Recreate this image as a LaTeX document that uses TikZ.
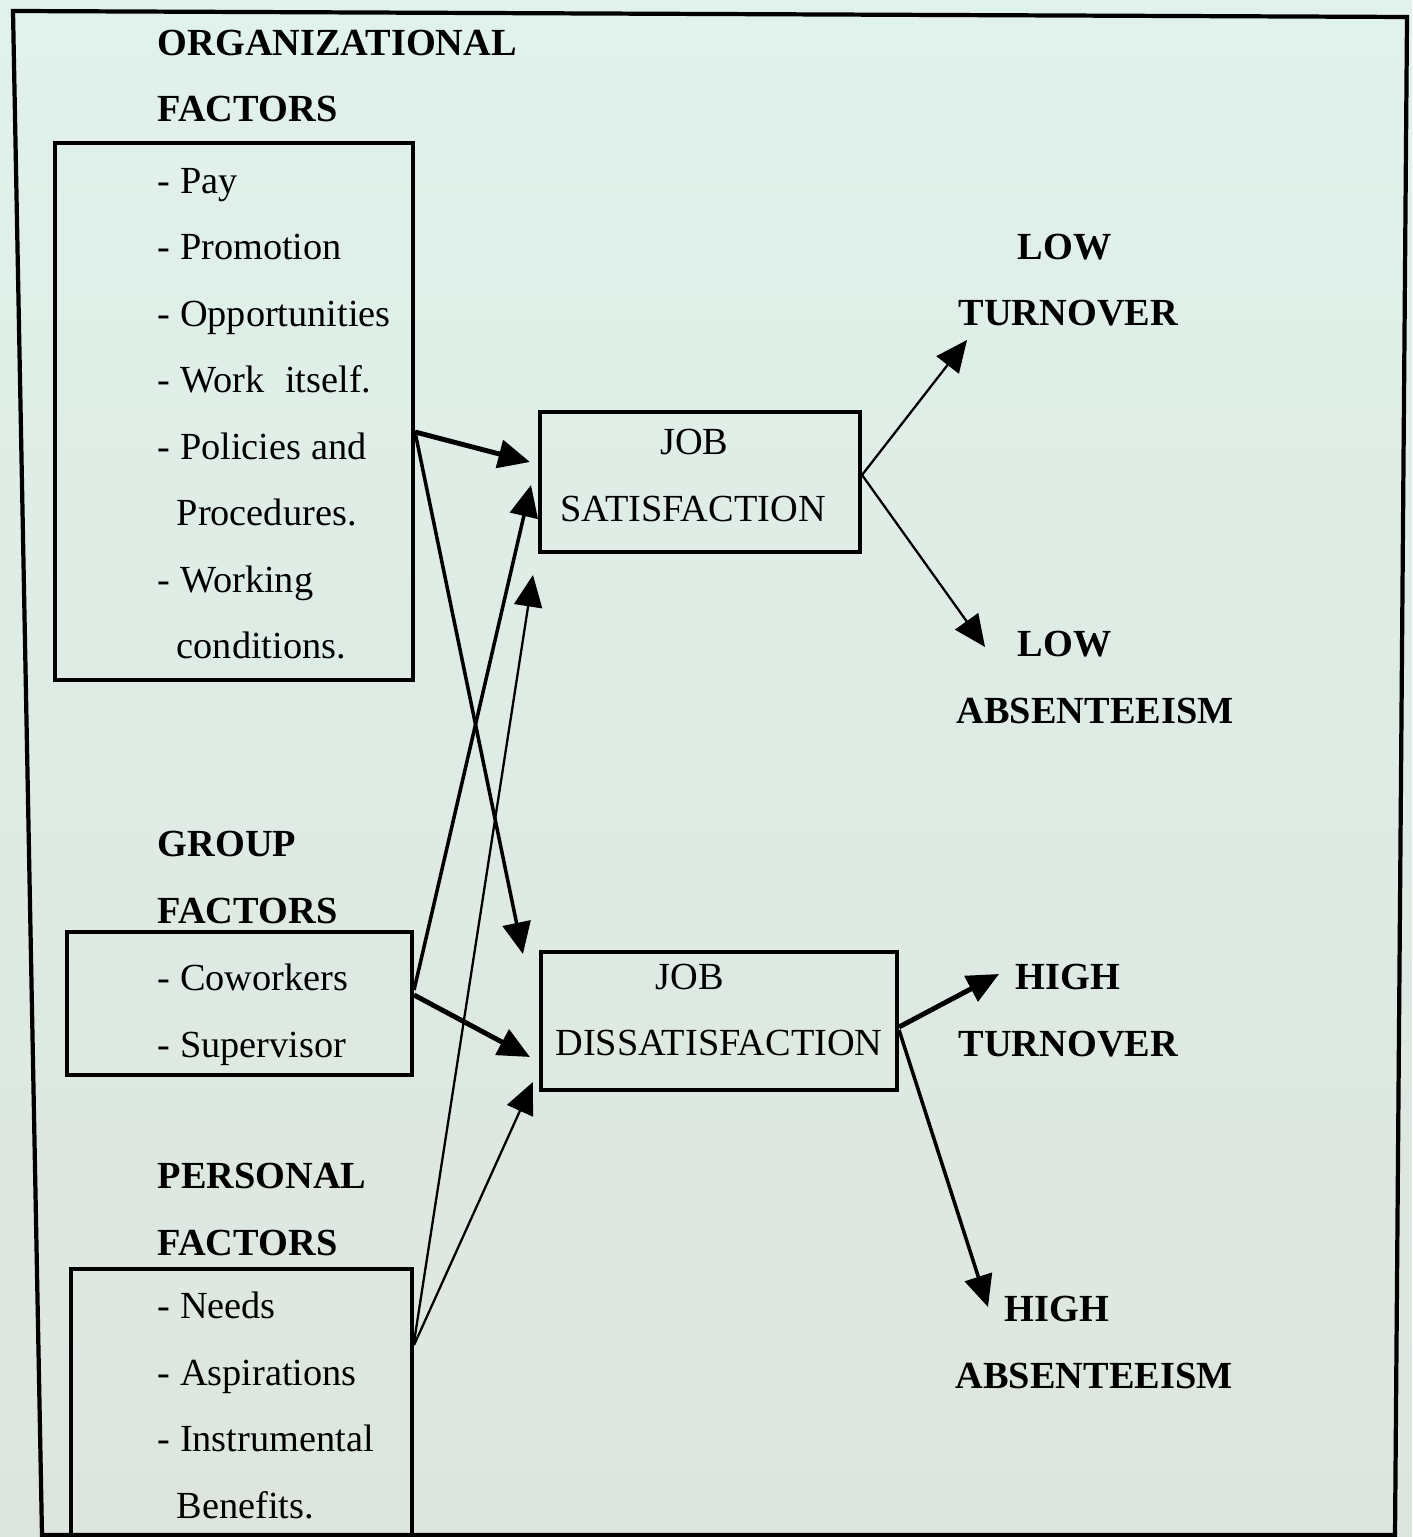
\documentclass[tikz,border=0pt]{standalone}
\usepackage{fontspec}
\setmainfont{Liberation Serif}
\usepackage{tikz}
\usetikzlibrary{arrows.meta}
\definecolor{papertop}{RGB}{225,241,235}
\definecolor{paperbottom}{RGB}{221,229,222}
\tikzstyle{heading} = [anchor=base west, inner sep=0pt, align=left, font=\fontsize{10.9}{18.9}\selectfont\bfseries]
\tikzstyle{itemlist} = [anchor=base west, inner sep=0pt, align=left, font=\fontsize{10.9}{18.9}\selectfont]
\tikzstyle{factorbox} = [rectangle, draw=black, line width=1.1pt, inner sep=0pt]
\tikzstyle{jobbox} = [rectangle, draw=black, line width=1.1pt, inner sep=0pt, align=left, font=\fontsize{10.9}{18.9}\selectfont]
\tikzstyle{outcome} = [anchor=base west, inner sep=0pt, align=left, font=\fontsize{10.9}{18.9}\selectfont\bfseries]
\tikzstyle{arrow} = [draw, line width=1.4pt, -{Triangle[length=9pt,width=8pt]}]
\tikzstyle{midarrow} = [draw, line width=1pt, -{Triangle[length=9pt,width=8pt]}]
\tikzstyle{thinarrow} = [draw, line width=0.65pt, -{Triangle[length=9pt,width=8pt]}]
\tikzstyle{frame} = [draw=black, line width=1.2pt]

\begin{document}
\begin{tikzpicture}[x=0.01cm, y=-0.01cm]

        % page and frame
        \useasboundingbox (0,0) rectangle (1412,1537);
        \shade [top color=papertop, bottom color=paperbottom] (0,0) rectangle (1412,1537);
        \path [frame] (13,11) -- (1407,17) -- (1395,1535) -- (42,1535) -- cycle;

        % factors (base = last line)
        \node (orghead) [heading] at (157,122) {ORGANIZATIONAL\\FACTORS};
        \node (orgbox) [factorbox, minimum width=3.58cm, minimum height=5.37cm] at (234,411.5) {};
        \node (orglist) [itemlist] at (157,658.5) {- Pay\\- Promotion\\- Opportunities\\- Work\hspace{0.55em}itself.\\- Policies and\\\hspace*{1.9mm}Procedures.\\- Working\\\hspace*{1.9mm}conditions.};

        \node (grouphead) [heading] at (157,923) {GROUP\\FACTORS};
        \node (groupbox) [factorbox, minimum width=3.45cm, minimum height=1.43cm] at (239.5,1003.5) {};
        \node (grouplist) [itemlist] at (157,1057) {- Coworkers\\- Supervisor};

        \node (pershead) [heading] at (157,1255) {PERSONAL\\FACTORS};
        \node (persbox) [factorbox, minimum width=3.41cm, minimum height=2.66cm] at (241.5,1402) {};
        \node (perslist) [itemlist] at (157,1518) {- Needs\\- Aspirations\\- Instrumental\\\hspace*{1.9mm}Benefits.};

        % job attitude
        \node (jobsat) [jobbox, minimum width=3.2cm, minimum height=1.4cm] at (700,482) {\hspace*{10mm}JOB\\SATISFACTION\rule[-1.3mm]{0pt}{1.3mm}\hspace*{1.4mm}};
        \node (jobdis) [jobbox, minimum width=3.56cm, minimum height=1.38cm] at (719,1021) {\hspace*{10mm}JOB\\DISSATISFACTION\rule[-2.2mm]{0pt}{2.2mm}};

        % outcomes
        \node (lowturn) [outcome] at (958,326) {\hspace*{5.9mm}LOW\\TURNOVER};
        \node (lowabs) [outcome] at (956,723) {\hspace*{6.1mm}LOW\\ABSENTEEISM};
        \node (highturn) [outcome] at (958,1056) {\hspace*{5.7mm}HIGH\\TURNOVER};
        \node (highabs) [outcome] at (955,1388) {\hspace*{4.9mm}HIGH\\ABSENTEEISM};

        % Draw edges
        \path [arrow] ([shift={(0,20.5)}]orgbox.east) -- ([shift={(-8,-20)}]jobsat.west);
        \path [midarrow] ([shift={(0,20.5)}]orgbox.east) -- ([shift={(-16,4)}]jobdis.north west);
        \path [midarrow] ([shift={(0,-13.5)}]groupbox.east) -- ([shift={(-7,3)}]jobsat.west);
        \path [arrow] ([shift={(0,-8.5)}]groupbox.east) -- ([shift={(-9,36)}]jobdis.west);
        \path [thinarrow] ([shift={(0,-60)}]persbox.east) -- ([shift={(-5,21)}]jobsat.south west);
        \path [thinarrow] ([shift={(0,-57)}]persbox.east) -- ([shift={(-6,-10)}]jobdis.south west);
        \path [thinarrow] ([shift={(0,-7)}]jobsat.east) -- ([shift={(9,14)}]lowturn.base west);
        \path [thinarrow] ([shift={(0,-7)}]jobsat.east) -- ([shift={(29,-76)}]lowabs.base west);
        \path [arrow] ([shift={(0,6)}]jobdis.east) -- ([shift={(41,-82)}]highturn.base west);
        \path [midarrow] ([shift={(0,9)}]jobdis.east) -- ([shift={(33,-81)}]highabs.base west);

\end{tikzpicture}
\end{document}
